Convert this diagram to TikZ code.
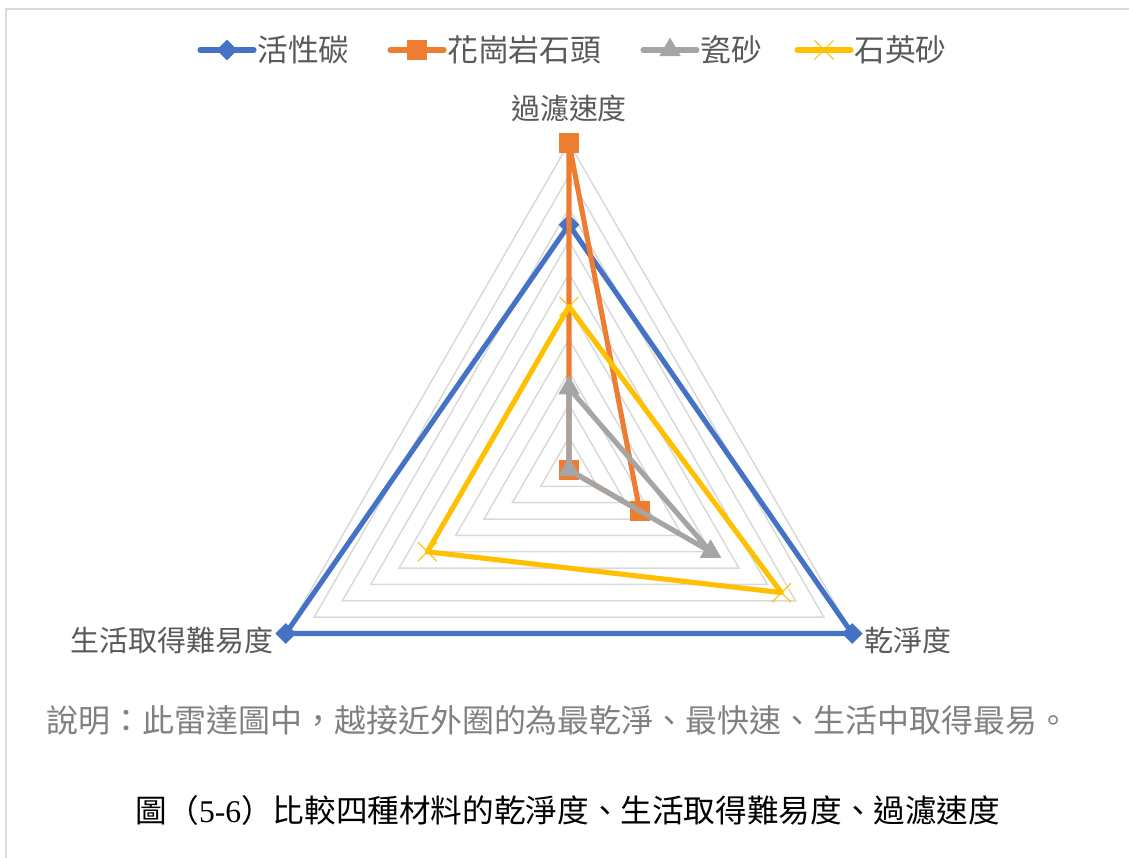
\documentclass[tikz,border=0pt]{standalone}
\usepackage{fontspec}
\setmainfont{Noto Sans CJK TC}
\newfontfamily\latinfont{Liberation Serif}
\usepackage{xcolor}
\usepackage{tikz}
\usetikzlibrary{shapes.geometric,shapes.misc,positioning,calc}

\definecolor{cblue}{HTML}{4472C4}
\definecolor{corange}{HTML}{ED7D31}
\definecolor{cgray}{HTML}{A5A5A5}
\definecolor{cyellow}{HTML}{FFC000}
\definecolor{gridgray}{HTML}{D9D9D9}
\definecolor{labgray}{HTML}{595959}
\definecolor{notegray}{HTML}{808080}

\newcommand{\vstep}{32.7}

\begin{document}
\begin{tikzpicture}[
    x=0.02cm, y=0.02cm,
    ring/.style={draw=gridgray, line width=0.85pt},
    series/.style={line width=2.9pt, line join=round},
    legline/.style={line width=2.9pt, line cap=round},
    mkdiamond/.style={diamond, fill=cblue, inner sep=0pt, minimum width=0.42cm, minimum height=0.42cm},
    mksquare/.style={rectangle, fill=corange, inner sep=0pt, minimum size=0.4cm},
    mktri/.style={regular polygon, regular polygon sides=3, fill=cgray, inner sep=0pt, minimum size=0.5cm},
    mkcross/.style={cross out, draw=cyellow, line width=0.6pt, inner sep=0pt, minimum size=0.36cm},
    legtext/.style={anchor=west, inner sep=0pt, text=labgray, font=\fontsize{17.5}{21}\selectfont},
    axlab/.style={inner sep=0pt, text=labgray, font=\fontsize{16.5}{20}\selectfont}
]
\useasboundingbox (-569,-388) rectangle (560,470);

% Frame
\coordinate (fr-bl) at (-563,-388);
\coordinate (fr-tl) at (-563,461);
\coordinate (fr-tr) at (560,461);
\draw[gridgray, line width=1.1pt] (fr-bl) -- (fr-tl) -- (fr-tr);

% Rings
\foreach \k in {1,...,10}
  \draw[ring] (90:{\k*\vstep}) -- (-30:{\k*\vstep}) -- (210:{\k*\vstep}) -- cycle;

% Axis labels
\node[axlab] (lab-top) at (0,362) {過濾速度};
\node[axlab, anchor=west] (lab-right) at (295,-170) {乾淨度};
\node[axlab, anchor=east] (lab-left) at (-295,-170) {生活取得難易度};

% Series points
\coordinate (blue-t) at (90:{7.5*\vstep});
\coordinate (blue-r) at (-30:{10*\vstep});
\coordinate (blue-l) at (210:{10*\vstep});
\coordinate (orange-t) at (90:{10*\vstep});
\coordinate (orange-r) at (-30:{2.5*\vstep});
\coordinate (orange-l) at (0,0);
\coordinate (gray-t) at (90:{2.5*\vstep});
\coordinate (gray-r) at (-30:{5*\vstep});
\coordinate (gray-l) at (0,0);
\coordinate (yellow-t) at (90:{5*\vstep});
\coordinate (yellow-r) at (-30:{7.5*\vstep});
\coordinate (yellow-l) at (210:{5*\vstep});

% Series
\draw[series, cblue] (blue-t) -- (blue-r) -- (blue-l) -- cycle;
\node[mkdiamond] (blue-tm) at (blue-t) {};
\node[mkdiamond] (blue-rm) at (blue-r) {};
\node[mkdiamond] (blue-lm) at (blue-l) {};

\draw[series, corange] (orange-t) -- (orange-r) -- (orange-l) -- cycle;
\node[mksquare] (orange-tm) at (orange-t) {};
\node[mksquare] (orange-rm) at (orange-r) {};
\node[mksquare] (orange-lm) at (orange-l) {};

\draw[series, cgray] (gray-t) -- (gray-r) -- (gray-l) -- cycle;
\node[mktri] (gray-tm) at (gray-t) {};
\node[mktri] (gray-rm) at (gray-r) {};
\node[mktri] (gray-lm) at (gray-l) {};

\draw[series, cyellow] (yellow-t) -- (yellow-r) -- (yellow-l) -- cycle;
\node[mkcross] (yellow-tm) at (yellow-t) {};
\node[mkcross] (yellow-rm) at (yellow-r) {};
\node[mkcross] (yellow-lm) at (yellow-l) {};

% Legend
\node[legtext] (leg1) at (-312,420) {活性碳};
\node[legtext] (leg2) at (-122,420) {花崗岩石頭};
\node[legtext] (leg3) at (131,420) {瓷砂};
\node[legtext] (leg4) at (285,420) {石英砂};
\draw[legline, cblue] ([xshift=-1.14cm]leg1.west) -- ([xshift=-0.06cm]leg1.west);
\draw[legline, corange] ([xshift=-1.14cm]leg2.west) -- ([xshift=-0.06cm]leg2.west);
\draw[legline, cgray] ([xshift=-1.14cm]leg3.west) -- ([xshift=-0.06cm]leg3.west);
\draw[legline, cyellow] ([xshift=-1.14cm]leg4.west) -- ([xshift=-0.06cm]leg4.west);
\node[mkdiamond] (leg1m) at ([xshift=-0.6cm]leg1.west) {};
\node[mksquare] (leg2m) at ([xshift=-0.6cm]leg2.west) {};
\node[mktri] (leg3m) at ([xshift=-0.6cm]leg3.west) {};
\node[mkcross] (leg4m) at ([xshift=-0.6cm]leg4.west) {};

% Note and caption
\node[anchor=west, inner sep=0pt, text=notegray, font=\fontsize{18.2}{22}\selectfont] (note) at (-523,-250)
  {說明：此雷達圖中，越接近外圈的為最乾淨、最快速、生活中取得最易。};
\node[inner sep=0pt, font=\fontsize{18}{22}\selectfont] (caption) at (-1,-340)
  {圖（{\latinfont 5-6}）比較四種材料的乾淨度、生活取得難易度、過濾速度};

\end{tikzpicture}
\end{document}
